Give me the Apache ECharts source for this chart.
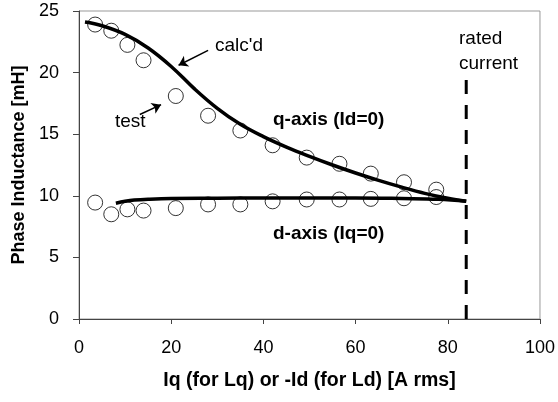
<!DOCTYPE html>
<html>
<head>
<meta charset="utf-8">
<script src="https://cdn.jsdelivr.net/npm/echarts@6/dist/echarts.min.js"></script>
<style>
  html, body { margin: 0; padding: 0; background: #fff; }
  #chart { width: 558px; height: 402px; }
</style>
</head>
<body>
<div id="chart"></div>
<script>
// test points (A rms)
var testX = [3.5, 7, 10.5, 14, 21, 28, 35, 42, 49.4, 56.5, 63.3, 70.5, 77.5];
var qTest = [23.9, 23.4, 22.25, 21.0, 18.1, 16.5, 15.3, 14.1, 13.1, 12.6, 11.8, 11.1, 10.5];
var dTest = [9.45, 8.5, 8.9, 8.8, 9.0, 9.3, 9.3, 9.55, 9.7, 9.7, 9.75, 9.8, 9.9];

// calculated curves
var qCalcX = [1.3, 5, 10, 15, 20, 25, 30, 35, 40, 45, 50, 55, 60, 65, 70, 75, 80, 84];
var qCalc = [24.1, 23.8, 23.1, 22.0, 20.5, 18.7, 17.1, 15.8, 14.8, 13.95, 13.2, 12.5, 11.85, 11.25, 10.7, 10.2, 9.8, 9.55];
var dCalcX = [8, 10, 12, 15, 20, 30, 40, 50, 60, 70, 78, 84];
var dCalc = [9.4, 9.55, 9.65, 9.72, 9.78, 9.8, 9.82, 9.82, 9.82, 9.78, 9.72, 9.55];

// rated current marker
var ratedX = 84;
var ratedTop = 19.6;

var xTicks = [0, 20, 40, 60, 80, 100];
var yTicks = [0, 5, 10, 15, 20, 25];

function pairs(xs, ys) {
  return xs.map(function (x, i) { return [x, ys[i]]; });
}

var font = "'Liberation Sans', Arial, sans-serif";
var chart = echarts.init(document.getElementById("chart"));

var circle = {
  type: "scatter",
  symbol: "circle",
  symbolSize: 15,
  itemStyle: { color: "rgba(0,0,0,0)", borderColor: "#000", borderWidth: 1 },
  silent: true,
  z: 3
};

chart.setOption({
  animation: false,
  textStyle: { fontFamily: font },
  grid: {
    left: 79, right: 18, top: 11, bottom: 83,
    show: true, borderColor: "#999", borderWidth: 1
  },
  xAxis: {
    type: "value",
    min: xTicks[0],
    max: xTicks[xTicks.length - 1],
    interval: 20,
    name: "Iq (for Lq) or -Id (for Ld) [A rms]",
    nameLocation: "middle",
    nameGap: 52,
    nameTextStyle: { fontSize: 19.5, fontWeight: "bold", color: "#000", fontFamily: font },
    axisLine: { onZero: false, lineStyle: { color: "#444", width: 1 } },
    axisTick: { show: true, length: 5, lineStyle: { color: "#444" } },
    axisLabel: { fontSize: 18, color: "#000", margin: 20, fontFamily: font },
    splitLine: { show: false }
  },
  yAxis: {
    type: "value",
    min: yTicks[0],
    max: yTicks[yTicks.length - 1],
    interval: 5,
    name: "Phase Inductance [mH]",
    nameLocation: "middle",
    nameGap: 50,
    nameTextStyle: { fontSize: 18, fontWeight: "bold", color: "#000", fontFamily: font },
    axisLine: { show: true, lineStyle: { color: "#444", width: 1 } },
    axisTick: { show: true, length: 6, lineStyle: { color: "#444" } },
    axisLabel: { fontSize: 18, color: "#000", margin: 20, fontFamily: font },
    splitLine: { show: false }
  },
  series: [
    {
      name: "q calc'd",
      type: "line",
      smooth: 0.4,
      showSymbol: false,
      data: pairs(qCalcX, qCalc),
      lineStyle: { color: "#000", width: 3.5 },
      z: 2,
      markLine: {
        silent: true,
        symbol: ["none", "arrow"],
        symbolSize: 9,
        label: { show: false },
        lineStyle: { color: "#000", width: 1.5, type: "solid" },
        data: [
          [{ coord: [28, 21.8] }, { coord: [21.6, 20.6] }],
          [{ coord: [13.2, 16.6] }, { coord: [17.8, 17.4] }]
        ]
      }
    },
    {
      name: "d calc'd",
      type: "line",
      smooth: 0.4,
      showSymbol: false,
      data: pairs(dCalcX, dCalc),
      lineStyle: { color: "#000", width: 3.5 },
      z: 2
    },
    Object.assign({ name: "q test", data: pairs(testX, qTest) }, circle),
    Object.assign({ name: "d test", data: pairs(testX, dTest) }, circle),
    {
      name: "rated current",
      type: "line",
      showSymbol: false,
      data: [[ratedX, 0], [ratedX, ratedTop]],
      lineStyle: { color: "#000", width: 3, type: [14, 11] },
      z: 2
    }
  ],
  graphic: [
    { type: "text", left: 215, top: 36, style: { text: "calc'd", fontSize: 19, fill: "#000", fontFamily: font } },
    { type: "text", left: 115, top: 112, style: { text: "test", fontSize: 19, fill: "#000", fontFamily: font } },
    { type: "text", left: 273, top: 110, style: { text: "q-axis (Id=0)", fontSize: 19, fontWeight: "bold", fill: "#000", fontFamily: font } },
    { type: "text", left: 273, top: 224, style: { text: "d-axis (Iq=0)", fontSize: 19, fontWeight: "bold", fill: "#000", fontFamily: font } },
    { type: "text", left: 459, top: 26, style: { text: "rated\ncurrent", fontSize: 19, lineHeight: 25, align: "center", fill: "#000", fontFamily: font } }
  ]
});
</script>
</body>
</html>
